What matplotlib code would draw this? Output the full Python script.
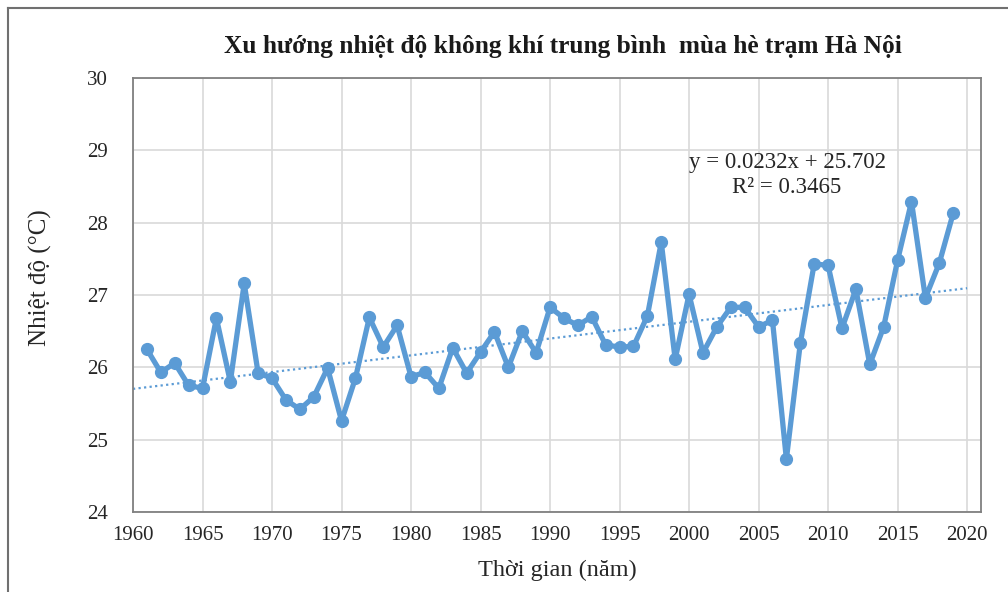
import matplotlib.pyplot as plt
import numpy as np
from matplotlib.lines import Line2D

plt.rcParams['font.family'] = ['Liberation Serif', 'DejaVu Serif']

# Mean summer air temperature, Hanoi station
years = list(range(1961, 2020))
temps = [26.25, 25.93, 26.06, 25.75, 25.71, 26.68, 25.80, 27.16, 25.92, 25.85,
         25.55, 25.42, 25.59, 25.99, 25.26, 25.85, 26.69, 26.28, 26.58, 25.87,
         25.93, 25.71, 26.27, 25.92, 26.21, 26.49, 26.00, 26.50, 26.20, 26.83,
         26.68, 26.58, 26.70, 26.31, 26.28, 26.29, 26.71, 27.73, 26.11, 27.01,
         26.20, 26.56, 26.83, 26.83, 26.56, 26.65, 24.73, 26.33, 27.43, 27.41,
         26.54, 27.08, 26.04, 26.56, 27.48, 28.29, 26.96, 27.44, 28.13]

# linear trend y = a*x + b, x counted from 1960
slope = 0.0232
intercept = 25.702
r2 = 0.3465

x_ticks = list(range(1960, 2021, 5))
y_ticks = [24, 25, 26, 27, 28, 29, 30]

blue = '#5B9BD5'

fig = plt.figure(figsize=(10.08, 5.92), dpi=100)
ax = fig.add_axes([133 / 1008, 1 - 512 / 592, 848 / 1008, 434 / 592])

ax.plot(years, temps, color=blue, lw=3.8, marker='o', ms=8.5, zorder=3)

trend_x = np.array([1960, 2020])
ax.plot(trend_x, slope * (trend_x - 1960) + intercept, color=blue, lw=1.6,
        ls=(0, (1, 1.5)), zorder=2)

ax.set_xlim(1960, 2021)
ax.set_ylim(24, 30)
ax.set_xticks(x_ticks)
ax.set_yticks(y_ticks)
ax.grid(True, color='#d9d9d9', lw=1.2)
ax.set_axisbelow(True)
for s in ax.spines.values():
    s.set_color('#808080')
    s.set_linewidth(1.3)
ax.tick_params(length=0, labelsize=15, colors='#262626')
ax.tick_params(axis='x', pad=10)
ax.tick_params(axis='y', pad=18)

ax.set_xlabel('Thời gian (năm)', fontsize=17.5, color='#262626')
ax.set_ylabel('Nhiệt độ (°C)', fontsize=18, color='#262626')
ax.xaxis.set_label_coords((557 - 133) / 848, -(560 - 512) / 434)
ax.yaxis.set_label_coords(-(133 - 52) / 848, (512 - 278) / 434)

fig.text(563 / 1008, 1 - 47 / 592,
         'Xu hướng nhiệt độ không khí trung bình  mùa hè trạm Hà Nội',
         ha='center', va='center', fontsize=18.3, fontweight='bold', color='#1a1a1a')

ax.text(2007.05, 28.83, f'y = {slope}x + {intercept}', ha='center', va='center',
        fontsize=16.5, color='#262626')
ax.text(2007.05, 28.49, f'R² = {r2}', ha='center', va='center',
        fontsize=16.5, color='#262626')

# outer chart frame
fig.add_artist(Line2D([8 / 1008, 8 / 1008], [0, 1 - 8 / 592], color='#707070', lw=1.5))
fig.add_artist(Line2D([8 / 1008, 1], [1 - 8 / 592, 1 - 8 / 592], color='#707070', lw=1.5))

fig.savefig('out.png', dpi=100)
